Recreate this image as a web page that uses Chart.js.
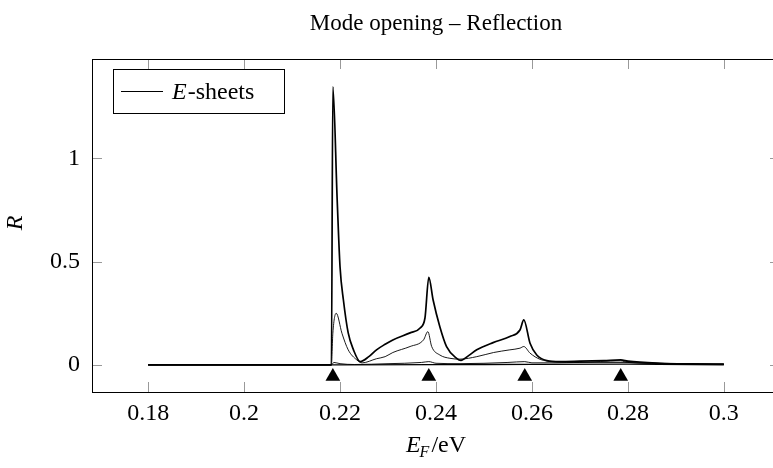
<!DOCTYPE html>
<html>
<head>
<meta charset="utf-8">
<script src="https://cdn.jsdelivr.net/npm/chart.js@4"></script>
<style>
  html, body { margin: 0; padding: 0; overflow: hidden; background: #fff; }
  #wrap { width: 773px; height: 468px; overflow: hidden; }
</style>
</head>
<body>
<div id="wrap"><canvas id="graph" width="800" height="468"></canvas></div>
<script>
// tick positions
const xTicks = [0.18, 0.2, 0.22, 0.24, 0.26, 0.28, 0.3];
const yTicks = [0, 0.5, 1];

// strongest curve
const sheetAx = [0.18, 0.2182, 0.2185, 0.2194, 0.2200, 0.2207, 0.2217, 0.2228, 0.2242, 0.2260, 0.2276, 0.2294, 0.2310, 0.2346, 0.2367, 0.2377, 0.2385, 0.2394, 0.2408, 0.2422, 0.2443, 0.2452, 0.2468, 0.2485, 0.2519, 0.2554, 0.2575, 0.2583, 0.2596, 0.2610, 0.2631, 0.2658, 0.2700, 0.2750, 0.2785, 0.2800, 0.2867, 0.2930, 0.3];
const sheetAy = [0, 0, 1.345, 0.80, 0.474, 0.314, 0.155, 0.073, 0.016, 0.040, 0.073, 0.100, 0.121, 0.155, 0.179, 0.227, 0.424, 0.314, 0.185, 0.089, 0.032, 0.022, 0.045, 0.073, 0.108, 0.137, 0.169, 0.218, 0.105, 0.048, 0.021, 0.016, 0.018, 0.021, 0.024, 0.018, 0.008, 0.005, 0.004];

// middle curve
const sheetBx = [0.18, 0.2182, 0.2185, 0.2192, 0.2204, 0.2217, 0.2235, 0.2246, 0.2276, 0.2294, 0.2310, 0.2346, 0.2374, 0.2383, 0.2391, 0.2408, 0.2429, 0.2450, 0.2485, 0.2520, 0.2554, 0.2575, 0.2583, 0.2596, 0.2617, 0.2644, 0.27, 0.28, 0.29, 0.3];
const sheetBy = [0, 0, 0.153, 0.250, 0.153, 0.073, 0.024, 0.010, 0.030, 0.040, 0.060, 0.089, 0.121, 0.161, 0.089, 0.048, 0.032, 0.028, 0.040, 0.060, 0.073, 0.081, 0.089, 0.057, 0.027, 0.016, 0.012, 0.012, 0.006, 0.004];

// weak curve
const sheetCx = [0.18, 0.2182, 0.2187, 0.2200, 0.2230, 0.2300, 0.2370, 0.2385, 0.2400, 0.2450, 0.2550, 0.2585, 0.2600, 0.2700, 0.2785, 0.2800, 0.2900, 0.3];
const sheetCy = [0, 0, 0.012, 0.006, 0.002, 0.006, 0.012, 0.016, 0.008, 0.006, 0.012, 0.016, 0.010, 0.012, 0.020, 0.012, 0.005, 0.003];

// near-zero curve
const sheetDx = [0.18, 0.2185, 0.25, 0.28, 0.3];
const sheetDy = [0, 0, 0.002, 0.004, 0.001];

// mode thresholds (triangles)
const modeX = [0.2185, 0.2385, 0.2585, 0.2785];
const modeY = -0.056;

const FONT = "'Liberation Serif', 'DejaVu Serif', serif";

function zip(xs, ys) {
    return xs.map((x, i) => ({x, y: ys[i]}));
}

function sheet(xs, ys, w) {
    return {
        type: "line",
        data: zip(xs, ys),
        borderColor: "#000",
        borderWidth: w,
        pointRadius: 0,
        cubicInterpolationMode: "monotone",
        fill: false
    };
}

const decor = {
    id: "decor",
    beforeDatasetsDraw(chart) {
        const {ctx, chartArea: a, scales: {x, y}} = chart;
        ctx.save();
        ctx.strokeStyle = "#999";
        ctx.lineWidth = 1;
        ctx.beginPath();
        xTicks.forEach(v => {
            const px = Math.round(x.getPixelForValue(v)) + 0.5;
            ctx.moveTo(px, a.bottom); ctx.lineTo(px, a.bottom - 10);
            ctx.moveTo(px, a.top); ctx.lineTo(px, a.top + 10);
        });
        yTicks.forEach(v => {
            const py = Math.round(y.getPixelForValue(v)) + 0.5;
            ctx.moveTo(a.left, py); ctx.lineTo(a.left + 10, py);
            ctx.moveTo(a.right, py); ctx.lineTo(a.right - 10, py);
        });
        ctx.stroke();
        ctx.strokeStyle = "#000";
        ctx.strokeRect(Math.round(a.left) + 0.5, Math.round(a.top) + 0.5, Math.round(a.width), Math.round(a.height));
        ctx.restore();
    },
    afterDraw(chart) {
        const {ctx, chartArea: a} = chart;
        ctx.save();
        ctx.fillStyle = "#000";
        // title
        ctx.font = "23px " + FONT;
        ctx.textAlign = "center";
        ctx.textBaseline = "alphabetic";
        ctx.fillText("Mode opening \u2013 Reflection", (a.left + a.right) / 2, 30);

        // y title
        ctx.save();
        ctx.translate(22, 223);
        ctx.rotate(-Math.PI / 2);
        ctx.font = "italic 24px " + FONT;
        ctx.fillText("R", 0, 0);
        ctx.restore();

        // x title E_F/eV
        ctx.textAlign = "left";
        ctx.font = "italic 24px " + FONT;
        const e = "E";
        const wE = ctx.measureText(e).width;
        ctx.font = "italic 16px " + FONT;
        const wF = ctx.measureText("F").width;
        ctx.font = "24px " + FONT;
        const wRest = ctx.measureText("/eV").width;
        let tx = (a.left + a.right) / 2 - (wE + wF + wRest + 1) / 2;
        const ty = 452;
        ctx.font = "italic 24px " + FONT;
        ctx.fillText(e, tx, ty);
        tx += wE - 1;
        ctx.font = "italic 16px " + FONT;
        ctx.fillText("F", tx, ty + 5);
        tx += wF + 2;
        ctx.font = "24px " + FONT;
        ctx.fillText("/eV", tx, ty);

        // legend
        ctx.fillStyle = "#fff";
        ctx.fillRect(113, 69, 171, 44);
        ctx.strokeStyle = "#000";
        ctx.lineWidth = 1;
        ctx.strokeRect(113.5, 69.5, 171, 44);
        ctx.beginPath();
        ctx.moveTo(121, 91.5); ctx.lineTo(163, 91.5);
        ctx.stroke();
        ctx.fillStyle = "#000";
        ctx.font = "italic 24px " + FONT;
        ctx.fillText("E", 172, 99);
        const wL = ctx.measureText("E").width;
        ctx.font = "24px " + FONT;
        ctx.fillText("-sheets", 172 + wL + 1, 99);
        ctx.restore();
    }
};

var chart = new Chart("graph", {
    type: "line",
    data: {
        datasets: [
            sheet(sheetDx, sheetDy, 1.4),
            sheet(sheetCx, sheetCy, 0.9),
            sheet(sheetBx, sheetBy, 0.9),
            sheet(sheetAx, sheetAy, 1.7),
            {
                type: "scatter",
                data: modeX.map(x => ({x, y: modeY})),
                pointStyle: "triangle",
                pointRadius: 8.5,
                backgroundColor: "#000",
                borderColor: "#000",
                borderWidth: 0
            }
        ]
    },
    options: {
        responsive: false,
        animation: false,
        layout: {padding: {top: 59, right: 20, left: 0, bottom: 0}},
        plugins: {legend: {display: false}, title: {display: false}, tooltip: {enabled: false}},
        scales: {
            x: {
                type: "linear",
                min: 0.1683,
                max: 0.3117,
                grid: {display: false, drawTicks: false},
                border: {display: false},
                afterBuildTicks: s => { s.ticks = xTicks.map(v => ({value: v})); },
                afterFit: s => { s.height = 76; },
                ticks: {
                    padding: 7,
                    color: "#000",
                    font: {family: FONT, size: 24},
                    callback: v => String(Math.round(v * 100) / 100)
                }
            },
            y: {
                type: "linear",
                min: -0.131,
                max: 1.48,
                grid: {display: false, drawTicks: false},
                border: {display: false},
                afterBuildTicks: s => { s.ticks = yTicks.map(v => ({value: v})); },
                afterFit: s => { s.width = 92; },
                ticks: {
                    padding: 12,
                    color: "#000",
                    font: {family: FONT, size: 24},
                    callback: v => String(v)
                }
            }
        }
    },
    plugins: [decor]
});
</script>
</body>
</html>
